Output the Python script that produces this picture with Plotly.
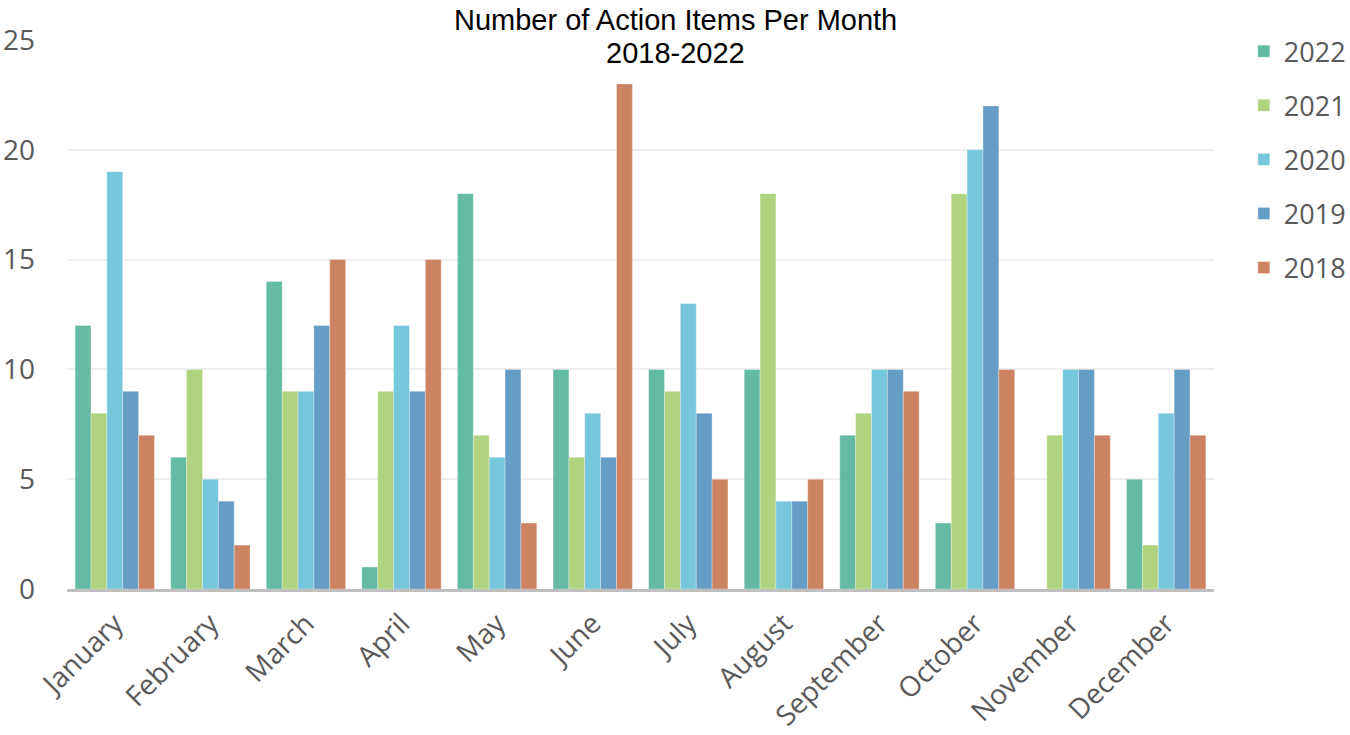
import plotly.graph_objects as go

months = ["January", "February", "March", "April", "May", "June", "July",
          "August", "September", "October", "November", "December"]
years = ["2022", "2021", "2020", "2019", "2018"]
v2022 = [12, 6, 14, 1, 18, 10, 10, 10, 7, 3, 0, 5]
v2021 = [8, 10, 9, 9, 7, 6, 9, 18, 8, 18, 7, 2]
v2020 = [19, 5, 9, 12, 6, 8, 13, 4, 10, 20, 10, 8]
v2019 = [9, 4, 12, 9, 10, 6, 8, 4, 10, 22, 10, 10]
v2018 = [7, 2, 15, 15, 3, 23, 5, 5, 9, 10, 7, 7]
series = [v2022, v2021, v2020, v2019, v2018]
colors = ["#5FB89F", "#AED27B", "#72C5DB", "#629AC4", "#CB7F5D"]
title_lines = ["Number of Action Items Per Month", "2018-2022"]

fig = go.Figure()
for name, vals, col in zip(years, series, colors):
    fig.add_trace(go.Bar(
        x=months, y=vals, name=name, legendgroup=name,
        marker=dict(color=col, line=dict(color="rgba(255,255,255,0.4)", width=0.8)),
        opacity=0.97,
    ))

for i, line in enumerate(title_lines):
    fig.add_annotation(text=line, xref="paper", yref="paper",
                       x=(675 - 67) / 1147, y=(589 - (20 + 33 * i)) / 549,
                       xanchor="center", yanchor="middle", showarrow=False,
                       font=dict(family="Liberation Sans, Arial", size=29, color="black"))

fig.update_layout(
    width=1350, height=735,
    barmode="group", bargap=0.17, bargroupgap=0,
    plot_bgcolor="white", paper_bgcolor="white",
    margin=dict(l=67, r=136, t=40, b=146, autoexpand=False),
    font=dict(family="Open Sans", color="#595959", size=28),
    legend=dict(x=1.026, xanchor="left", y=1.0235, yanchor="top",
                tracegroupgap=16, font=dict(size=27, color="#595959"),
                itemwidth=30),
    showlegend=True,
)
fig.update_yaxes(range=[0, 25], dtick=5, showgrid=True, gridcolor="#EEEEEE",
                 gridwidth=1.5, zeroline=False, showline=False, automargin=False,
                 ticklabelstandoff=31, tickfont=dict(size=28, color="#595959"))
fig.update_xaxes(tickangle=-45, showline=True, linecolor="#BFBFBF", linewidth=3,
                 tickfont=dict(size=28, color="#595959"), ticks="", automargin=False,
                 ticklabelstandoff=4)

fig.write_html("out.html", config={"displayModeBar": False},
               post_script="document.body.style.margin='0';")
